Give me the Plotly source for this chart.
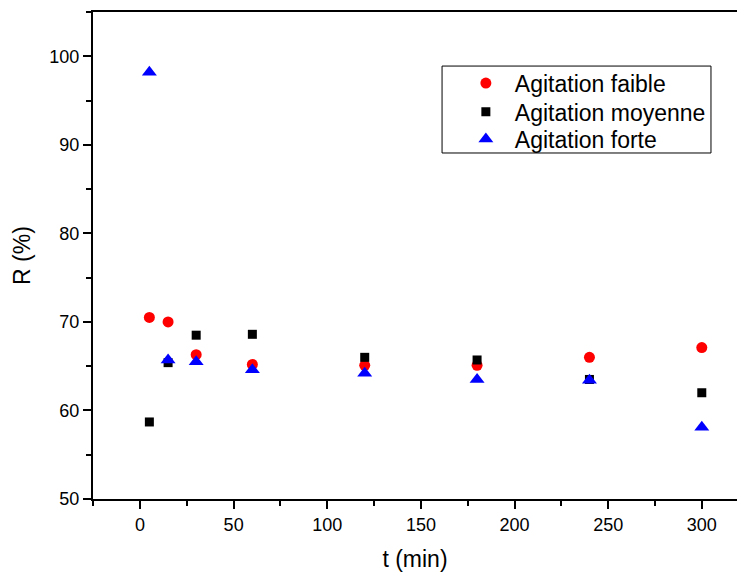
import plotly.graph_objects as go

t = [5, 15, 30, 60, 120, 180, 240, 300]
faible = [70.5, 70.0, 66.3, 65.2, 65.1, 65.1, 66.0, 67.1]
moyenne = [58.7, 65.4, 68.5, 68.6, 66.0, 65.7, 63.5, 62.0]
forte = [98.2, 65.7, 65.5, 64.6, 64.2, 63.5, 63.4, 58.1]
names = ["Agitation faible", "Agitation moyenne", "Agitation forte"]

FONT = "Arial, Liberation Sans, sans-serif"

fig = go.Figure()
fig.add_trace(go.Scatter(x=t, y=faible, mode="markers", name=names[0], legend="legend",
                         marker=dict(symbol="circle", size=11, color="#ff0000", line=dict(width=0))))
fig.add_trace(go.Scatter(x=t, y=moyenne, mode="markers", name=names[1], legend="legend2",
                         marker=dict(symbol="square", size=9, color="#000000", line=dict(width=0))))
fig.add_trace(go.Scatter(x=t, y=forte, mode="markers", name=names[2], legend="legend3",
                         marker=dict(symbol="triangle-up", size=13, color="#0000ff", line=dict(width=0))))

def leg(yc):
    return dict(x=0.565, y=yc, xanchor="left", yanchor="middle",
                borderwidth=0, bgcolor="rgba(0,0,0,0)",
                font=dict(family=FONT, size=23, color="black"),
                itemwidth=48, itemclick=False)

fig.update_layout(
    width=737, height=572,
    margin=dict(l=93, r=0, t=12, b=73),
    paper_bgcolor="white", plot_bgcolor="white",
    font=dict(family=FONT, size=18, color="black"),
    showlegend=True,
    legend=leg(0.854), legend2=leg(0.795), legend3=leg(0.739),
    shapes=[dict(type="rect", xref="paper", yref="paper",
                 x0=0.542, x1=0.9596, y0=0.7105, y1=0.889,
                 line=dict(color="black", width=1), fillcolor="rgba(0,0,0,0)", layer="below")],
    xaxis=dict(range=[-25.1, 318.8], tickmode="array",
               tickvals=[0, 50, 100, 150, 200, 250, 300],
               showgrid=False, zeroline=False,
               showline=True, linecolor="black", linewidth=2, mirror=True,
               ticks="outside", ticklen=8, tickwidth=1.5, tickcolor="black",
               minor=dict(dtick=25, tick0=0, ticks="outside", ticklen=5, tickwidth=1.5, tickcolor="black"),
               tickfont=dict(family=FONT, size=18),
               title=dict(text="t (min)", font=dict(family=FONT, size=23), standoff=17)),
    yaxis=dict(range=[50, 105], tickmode="array",
               tickvals=[50, 60, 70, 80, 90, 100],
               showgrid=False, zeroline=False,
               showline=True, linecolor="black", linewidth=2, mirror=False,
               ticks="outside", ticklen=8, tickwidth=1.5, tickcolor="black",
               minor=dict(dtick=5, tick0=50, ticks="outside", ticklen=5, tickwidth=1.5, tickcolor="black"),
               tickfont=dict(family=FONT, size=18),
               title=dict(text="R (%)", font=dict(family=FONT, size=23), standoff=12)),
)

fig.write_html("out.html")
